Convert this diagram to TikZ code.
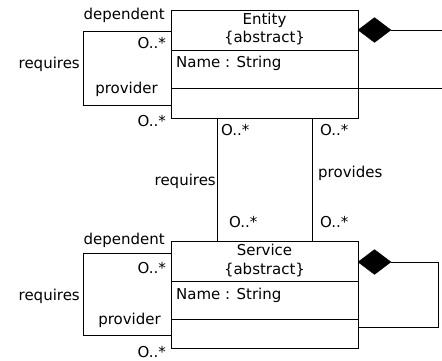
\documentclass[tikz,border=0pt]{standalone}
\usepackage{fontspec}
\setmainfont{DejaVu Sans}
\usepackage{tikz}
\usetikzlibrary{calc,positioning,shapes.geometric}

\newcommand{\umlfont}{\fontsize{15}{17}\selectfont}

\tikzset{
  umlclass/.style={draw, line width=0.8pt, minimum width=187pt, minimum height=108pt, inner sep=0pt},
  comp/.style={diamond, draw, fill=black, minimum width=33pt, minimum height=25pt, inner sep=0pt},
  lbl/.style={font=\umlfont, inner sep=1pt},
  link/.style={line width=0.8pt},
}

\begin{document}
\begin{tikzpicture}[x=1pt, y=-1pt]
  \useasboundingbox (0,0) rectangle (442,361);

  % ================= ENTITY =================
  \node[umlclass] (entity) at (264.5,64) {};
  \node[lbl] (entityname) at (264.5,20) {Entity};
  \node[lbl] (entityabs) at (264.5,38) {\{abstract\}};
  \draw[link] (171,50.5) -- (358,50.5);
  \node[lbl, anchor=west] (entityattr) at (175,63) {Name : String};
  \draw[link] (171,88.5) -- (358,88.5);

  % composition to the right
  \node[comp] (entcomp) at (374.5,30) {};
  \coordinate (entout) at (442,30);
  \coordinate (entdiv) at (358,88.5);
  \coordinate (entdivout) at (442,88.5);
  \draw[link] (entcomp.east) -- (entout);
  \draw[link] (entdiv) -- (entdivout);

  % requires loop
  \coordinate (entdep) at (171,31);
  \coordinate (entprov) at (171,105);
  \draw[link] (entdep) -- (83,31) -- (83,105) -- (entprov);
  \node[lbl, anchor=east] (entdeplbl) at (166,15) {dependent};
  \node[lbl, anchor=east] (entdepmul) at (167,43) {O..*};
  \node[lbl, anchor=east] (entreq) at (81,64) {requires};
  \node[lbl, anchor=east] (entprovlbl) at (159,89) {provider};
  \node[lbl, anchor=east] (entprovmul) at (167,121) {O..*};

  % ================= SERVICE =================
  \node[umlclass, minimum height=107pt] (service) at (264.5,294.5) {};
  \node[lbl] (servicename) at (264.5,250) {Service};
  \node[lbl] (serviceabs) at (264.5,270) {\{abstract\}};
  \draw[link] (171,281) -- (358,281);
  \node[lbl, anchor=west] (serviceattr) at (175,295) {Name : String};
  \draw[link] (171,319) -- (358,319);

  % composition loop
  \node[comp] (srvcomp) at (374.5,262) {};
  \coordinate (srvback) at (358,327);
  \draw[link] (srvcomp.east) -- (438,262) -- (438,327) -- (srvback);

  % requires loop
  \coordinate (srvdep) at (171,253);
  \coordinate (srvprov) at (171,335);
  \draw[link] (srvdep) -- (83,253) -- (83,335) -- (srvprov);
  \node[lbl, anchor=east] (srvdeplbl) at (166,240) {dependent};
  \node[lbl, anchor=east] (srvdepmul) at (167,268) {O..*};
  \node[lbl, anchor=east] (srvreq) at (81,296) {requires};
  \node[lbl, anchor=east] (srvprovlbl) at (162,320) {provider};
  \node[lbl, anchor=east] (srvprovmul) at (167,352) {O..*};

  % ================= ENTITY -- SERVICE =================
  \draw[link] ($(entity.south west)+(47,0)$) -- ($(service.north west)+(47,0)$);
  \draw[link] ($(entity.south west)+(142,0)$) -- ($(service.north west)+(142,0)$);
  \node[lbl, anchor=west] (reqtop) at (220,130) {O..*};
  \node[lbl, anchor=west] (provtop) at (319,130) {O..*};
  \node[lbl, anchor=east] (reqlbl) at (217,181) {requires};
  \node[lbl, anchor=west] (provlbl) at (317,173) {provides};
  \node[lbl, anchor=west] (reqbot) at (228,222) {O..*};
  \node[lbl, anchor=west] (provbot) at (319,222) {O..*};
\end{tikzpicture}
\end{document}
